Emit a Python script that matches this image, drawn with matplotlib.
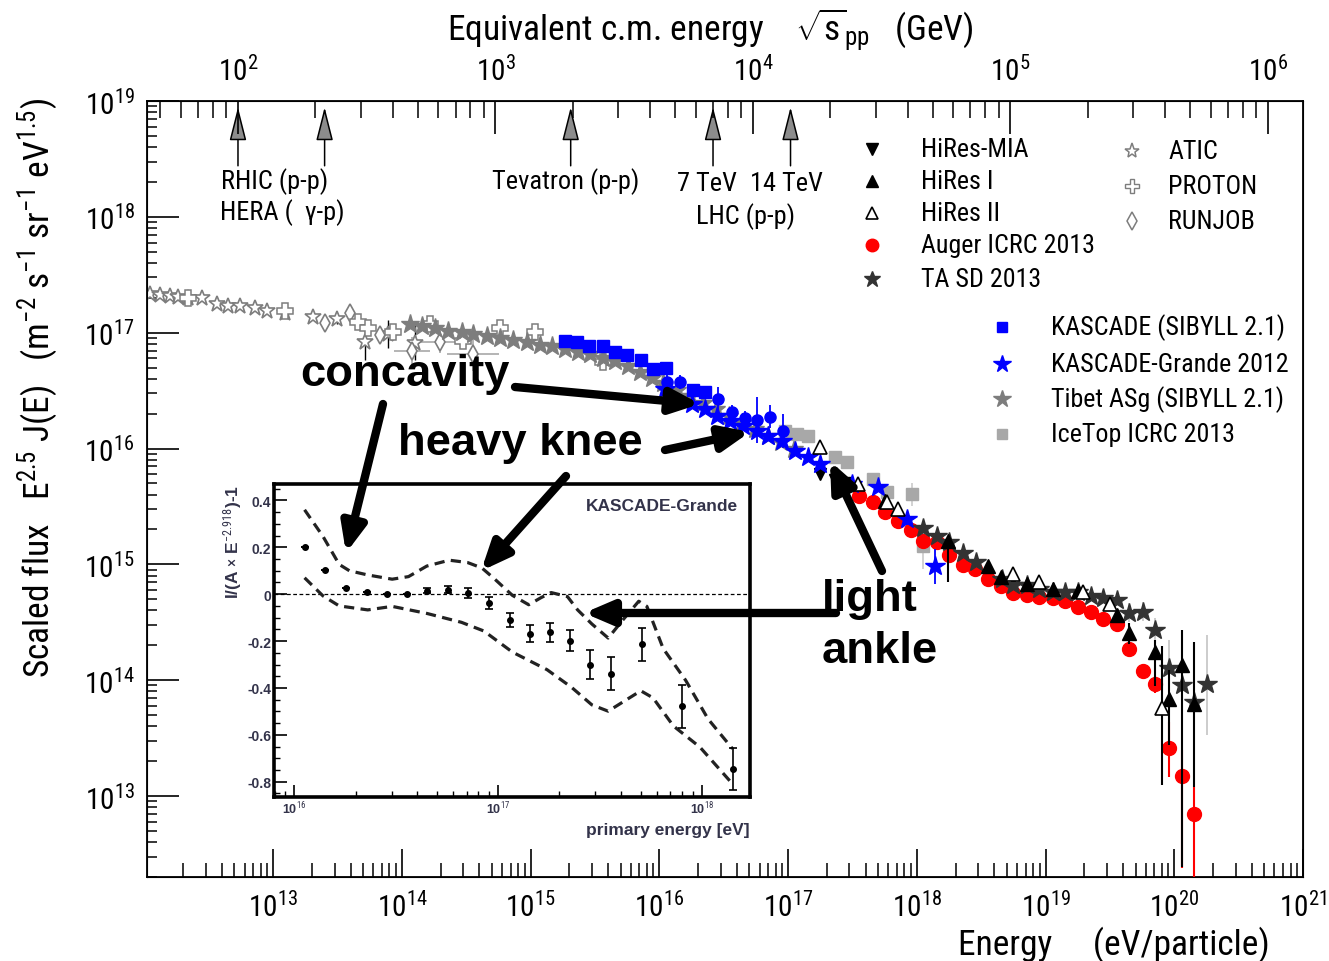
import numpy as np
import matplotlib
matplotlib.use('Agg')
import matplotlib.pyplot as plt
from matplotlib import font_manager
from matplotlib.ticker import (LogLocator, NullFormatter, MultipleLocator, FixedLocator,
                               FuncFormatter, LogFormatterMathtext)

# ---------------- data (log10 values) ----------------
atic_logE = [12.045, 12.123, 12.200, 12.262, 12.340, 12.449, 12.565, 12.651, 12.744, 12.860,
             12.953, 13.093, 13.311, 13.497, 13.714, 13.893, 14.102]
atic_logF = [17.338, 17.329, 17.320, 17.312, 17.303, 17.303, 17.251, 17.234, 17.234, 17.216,
             17.190, 17.173, 17.139, 17.121, 16.922, 16.991, 16.913]
atic_err = [0, 0, 0, 0, 0, 0, 0, 0, 0, 0, 0, 0, 0, 0.05, 0.16, 0.12, 0.15]

proton_logE = [12.340, 13.093, 13.660, 13.738, 13.932, 14.219, 14.475, 14.762, 15.034, 15.562]
proton_logF = [17.303, 17.190, 17.095, 17.043, 17.009, 17.078, 16.931, 17.043, 17.009, 16.749]

runjob_logE = [13.404, 13.598, 13.831, 14.079, 14.297, 14.553]
runjob_logF = [17.087, 17.173, 16.983, 16.844, 16.922, 16.818]
runjob_xerr = [0, 0, 0, 0.14, 0.16, 0.20]
runjob_yerr = [0, 0, 0, 0.12, 0.10, 0.15]

tibet_logE = [14.064, 14.157, 14.258, 14.359, 14.467, 14.553, 14.661, 14.762, 14.863, 14.972,
              15.073, 15.166, 15.267, 15.368, 15.461, 15.562, 15.655, 15.756, 15.849, 15.943,
              16.028, 16.137, 16.238, 16.339, 16.439, 16.540, 16.641, 16.742, 16.843, 16.944, 17.045]
tibet_logF = [17.078, 17.061, 17.043, 17.017, 17.009, 16.991, 16.974, 16.957, 16.939, 16.922,
              16.896, 16.887, 16.861, 16.835, 16.818, 16.784, 16.758, 16.714, 16.662, 16.610,
              16.567, 16.506, 16.455, 16.394, 16.342, 16.281, 16.221, 16.169, 16.108, 16.056, 15.996]

kascade_logE = [15.267, 15.360, 15.453, 15.562, 15.655, 15.748, 15.857, 15.950, 16.051, 16.261, 16.354]
kascade_logF = [16.931, 16.922, 16.887, 16.887, 16.835, 16.810, 16.766, 16.688, 16.697, 16.506, 16.489]

kgq_logE = [16.059, 16.160, 16.455, 16.564, 16.665, 16.758, 16.859, 16.960]
kgq_logF = [16.576, 16.576, 16.429, 16.316, 16.264, 16.247, 16.273, 16.152]
kgq_err = [0.06, 0.06, 0.10, 0.06, 0.06, 0.20, 0.10, 0.15]

kg_logE = [16.043, 16.253, 16.354, 16.447, 16.548, 16.649, 16.758, 16.843, 16.952, 17.053,
           17.154, 17.247, 17.495, 17.697, 17.922, 18.140]
kg_logF = [16.515, 16.385, 16.342, 16.281, 16.238, 16.195, 16.152, 16.108, 16.065, 15.978,
           15.926, 15.866, 15.693, 15.667, 15.390, 14.983]
kg_err = [0, 0, 0, 0, 0, 0, 0, 0, 0, 0, 0, 0, 0, 0, 0.05, 0.15]

ice_logE = [16.975, 17.068, 17.154, 17.363, 17.457, 17.658, 17.767, 17.961, 18.047]
ice_logF = [16.152, 16.126, 16.108, 15.926, 15.883, 15.736, 15.623, 15.606, 15.156]
ice_err = [0, 0, 0, 0, 0, 0, 0, 0.10, 0.20]

mia_logE = [17.247, 17.363, 17.457]
mia_logF = [15.779, 15.727, 15.701]

hires1_logE = [17.752, 18.241, 18.551, 18.652, 18.854, 19.056, 19.250, 19.553, 19.646, 19.848,
               19.957, 20.057, 20.151]
hires1_logF = [15.545, 15.199, 14.983, 14.887, 14.827, 14.784, 14.766, 14.567, 14.411, 14.247,
               13.840, 14.134, 13.797]
hires1_dn = [0, 0.35, 0, 0, 0, 0, 0, 0.05, 0.10, 0.30, 0.40, 1.75, 0.72]
hires1_up = [0, 0.05, 0, 0, 0, 0, 0, 0.05, 0.08, 0.10, 0.25, 0.30, 0.53]

hires2_logE = [17.247, 17.542, 17.767, 17.853, 18.745, 18.947, 19.289, 19.498, 19.902]
hires2_logF = [16.013, 15.693, 15.537, 15.476, 14.913, 14.844, 14.758, 14.654, 13.762]
hires2_dn = [0, 0, 0, 0, 0, 0, 0, 0.05, 0.67]
hires2_up = [0, 0, 0, 0, 0, 0, 0, 0.05, 0.53]

auger_logE = [17.550, 17.658, 17.752, 17.853, 17.953, 18.047, 18.155, 18.248, 18.357, 18.450,
              18.551, 18.652, 18.745, 18.854, 18.947, 19.056, 19.149, 19.250, 19.351, 19.444,
              19.553, 19.646, 19.755, 19.848, 19.957, 20.057, 20.151]
auger_logF = [15.589, 15.537, 15.450, 15.372, 15.294, 15.199, 15.190, 15.078, 14.991, 14.957,
              14.870, 14.810, 14.749, 14.732, 14.714, 14.706, 14.680, 14.636, 14.593, 14.524,
              14.489, 14.273, 14.082, 13.970, 13.416, 13.173, 12.844]
auger_dn = [0] * 21 + [0.03, 0.05, 0.08, 0.25, 0.79, 1.0]
auger_up = [0] * 21 + [0.03, 0.05, 0.07, 0.22, 0.225, 0.23]

ta_logE = [18.047, 18.155, 18.248, 18.357, 18.458, 18.660, 18.745, 18.854, 18.947, 19.056,
           19.149, 19.250, 19.351, 19.444, 19.553, 19.646, 19.755, 19.848, 19.957, 20.057,
           20.151, 20.252]
ta_logF = [15.312, 15.242, 15.190, 15.095, 15.017, 14.870, 14.818, 14.818, 14.784, 14.758,
           14.758, 14.758, 14.723, 14.706, 14.688, 14.584, 14.593, 14.437, 14.108, 13.961,
           13.814, 13.970]
ta_dn = [0] * 15 + [0.08, 0.08, 0.12, 0.56, 0.40, 0.45, 0.44]
ta_up = [0] * 15 + [0.08, 0.08, 0.10, 0.24, 0.30, 0.35, 0.42]

# collider markers (sqrt(s) in GeV)
collider_sqrts = [100, 217, 1960, 7000, 14000]

# tick positions
x_major = [1e13, 1e14, 1e15, 1e16, 1e17, 1e18, 1e19, 1e20, 1e21]
y_major = [1e13, 1e14, 1e15, 1e16, 1e17, 1e18, 1e19]
top_major = [1e2, 1e3, 1e4, 1e5, 1e6]

# inset: KASCADE-Grande residuals
in_logE = [16.054, 16.152, 16.254, 16.354, 16.455, 16.553, 16.653, 16.753, 16.853, 16.954,
           17.056, 17.154, 17.256, 17.354, 17.453, 17.553, 17.704, 17.904, 18.152]
in_y = [0.202, 0.105, 0.025, 0.010, 0.0, 0.0, 0.015, 0.02, 0.005, -0.037,
        -0.112, -0.168, -0.162, -0.198, -0.30, -0.34, -0.214, -0.479, -0.745]
in_err = [0, 0, 0, 0, 0, 0, 0.01, 0.015, 0.02, 0.025, 0.03, 0.035, 0.04, 0.045, 0.06, 0.07,
          0.07, 0.09, 0.09]
up_logE = [16.05, 16.14, 16.22, 16.27, 16.36, 16.48, 16.56, 16.65, 16.76, 16.85, 16.92, 16.98,
           17.07, 17.15, 17.21, 17.26, 17.34, 17.39, 17.46, 17.54, 17.61, 17.69, 17.73, 17.81,
           17.92, 18.03, 18.15]
up_y = [0.36, 0.247, 0.127, 0.10, 0.082, 0.064, 0.075, 0.12, 0.145, 0.135, 0.112, 0.067,
        -0.005, -0.045, -0.015, 0.007, -0.01, -0.067, -0.127, -0.187, -0.112, -0.03, -0.052,
        -0.232, -0.367, -0.532, -0.659]
lo_logE = [16.05, 16.14, 16.22, 16.36, 16.48, 16.65, 16.82, 16.93, 17.07, 17.24, 17.36, 17.46,
           17.54, 17.63, 17.70, 17.76, 17.86, 17.99, 18.15]
lo_y = [0.07, -0.007, -0.05, -0.067, -0.052, -0.082, -0.12, -0.157, -0.247, -0.322, -0.397,
        -0.472, -0.499, -0.45, -0.412, -0.442, -0.562, -0.652, -0.809]
in_x_major = [1e16, 1e17, 1e18]

# ---------------- fonts ----------------
names = {f.name for f in font_manager.fontManager.ttflist}
NARROW = next((n for n in ['Liberation Sans Narrow', 'Roboto Condensed', 'Open Sans Condensed',
                           'DejaVu Sans Condensed'] if n in names), None)
FAM = NARROW or 'Lato'
K = 1.0 if NARROW else 0.87
plt.rcParams['font.family'] = [FAM, 'DejaVu Sans']
plt.rcParams['mathtext.fontset'] = 'custom'
plt.rcParams['mathtext.rm'] = FAM
plt.rcParams['mathtext.it'] = FAM
plt.rcParams['mathtext.bf'] = FAM
HELV = ['Liberation Sans', 'DejaVu Sans']

GRAY = '#7d7d7d'
LGRAY = '#a8a8a8'
DARK = '#333333'
BLUE = '#0000ff'
RED = '#ff0000'
INK = '#33334a'

W, H = 1329, 962
fig = plt.figure(figsize=(W / 100, H / 100), dpi=100)
L, R, T, B = 147, 1303, 102, 878
ax = fig.add_axes([L / W, 1 - B / H, (R - L) / W, (B - T) / H])

def P(a):
    return 10 ** np.asarray(a, dtype=float)

def lerr(F, dn, up):
    F = np.asarray(F, float)
    return [10 ** F - 10 ** (F - np.asarray(dn)), 10 ** (F + np.asarray(up)) - 10 ** F]

# ---- low energy direct measurements ----
ax.errorbar(P(atic_logE), P(atic_logF), yerr=lerr(atic_logF, atic_err, atic_err), fmt='*',
            ms=12, mfc='white', mec=GRAY, mew=1.2, ecolor='black', elinewidth=1.0, zorder=3)
ax.errorbar(P(runjob_logE), P(runjob_logF), yerr=lerr(runjob_logF, runjob_yerr, runjob_yerr),
            xerr=[P(runjob_logE) - P(np.array(runjob_logE) - runjob_xerr),
                  P(np.array(runjob_logE) + runjob_xerr) - P(runjob_logE)],
            fmt='d', ms=9, mfc='white', mec=GRAY, mew=1.2, ecolor=LGRAY, elinewidth=1.2, zorder=3)
ax.plot(P(proton_logE), P(proton_logF), 'P', ms=11, mfc='white', mec=GRAY, mew=1.1, ls='none', zorder=4)
ax.plot(P(tibet_logE), P(tibet_logF), '*', ms=14, color=GRAY, ls='none', zorder=4)

# ---- knee region ----
ax.plot(P(kascade_logE), P(kascade_logF), 's', ms=9, color=BLUE, ls='none', zorder=6)
ax.errorbar(P(kgq_logE), P(kgq_logF), yerr=lerr(kgq_logF, kgq_err, kgq_err), fmt='o', ms=8,
            color=BLUE, elinewidth=1.3, zorder=6)
ax.errorbar(P(ice_logE), P(ice_logF), yerr=lerr(ice_logF, ice_err, ice_err), fmt='s', ms=8,
            color=LGRAY, ecolor='#cfcfcf', elinewidth=1.3, zorder=5)
ax.errorbar(P(kg_logE), P(kg_logF), yerr=lerr(kg_logF, kg_err, kg_err), fmt='*', ms=15,
            color=BLUE, elinewidth=1.3, zorder=7)

# ---- UHECR ----
ax.plot(P(mia_logE), P(mia_logF), 'v', ms=9, color='black', ls='none', zorder=6)
ax.errorbar(P(auger_logE), P(auger_logF), yerr=lerr(auger_logF, auger_dn, auger_up), fmt='o',
            ms=10, color=RED, elinewidth=1.5, zorder=6)
ax.errorbar(P(ta_logE), P(ta_logF), yerr=lerr(ta_logF, ta_dn, ta_up), fmt='*', ms=15,
            color=DARK, ecolor='#c8c8c8', elinewidth=1.3, zorder=7)
ax.errorbar(P(hires1_logE), P(hires1_logF), yerr=lerr(hires1_logF, hires1_dn, hires1_up), fmt='^',
            ms=10, color='black', elinewidth=1.5, zorder=8)
ax.errorbar(P(hires2_logE), P(hires2_logF), yerr=lerr(hires2_logF, hires2_dn, hires2_up), fmt='^',
            ms=10, mfc='white', mec='black', mew=1.2, ecolor='black', elinewidth=1.5, zorder=8)

# ---------------- axes formatting ----------------
TL = 21 * K
ax.set_xscale('log')
ax.set_yscale('log')
xlim = (10 ** 12.02, 1e21)
ax.set_xlim(*xlim)
ax.set_ylim(2e12, 1e19)
for sp in ax.spines.values():
    sp.set_linewidth(1.3)
ax.xaxis.set_major_locator(FixedLocator(x_major))
ax.xaxis.set_major_formatter(LogFormatterMathtext())
ax.xaxis.set_minor_locator(LogLocator(base=10, subs=np.arange(2, 10), numticks=200))
ax.xaxis.set_minor_formatter(NullFormatter())
ax.yaxis.set_major_locator(FixedLocator(y_major))
ax.yaxis.set_major_formatter(LogFormatterMathtext())
ax.yaxis.set_minor_locator(LogLocator(base=10, subs=np.arange(2, 10), numticks=200))
ax.yaxis.set_minor_formatter(NullFormatter())
ax.tick_params(axis='x', which='major', direction='in', length=20, width=1.2, pad=10,
               labelsize=TL, top=False)
ax.tick_params(axis='x', which='minor', direction='in', length=10, width=1.1, top=False)
ax.tick_params(axis='y', which='major', direction='in', length=23, width=1.2, pad=9,
               labelsize=TL, right=False)
ax.tick_params(axis='y', which='minor', direction='in', length=7, width=1.1, right=False)

axt = ax.twiny()
axt.set_xscale('log')
mp = 0.938e9
def sqrts_gev(E):
    return np.sqrt(2 * mp * E) / 1e9
axt.set_xlim(sqrts_gev(xlim[0]), sqrts_gev(xlim[1]))
axt.xaxis.set_major_locator(FixedLocator(top_major))
axt.xaxis.set_major_formatter(LogFormatterMathtext())
axt.xaxis.set_minor_locator(LogLocator(base=10, subs=np.arange(2, 10), numticks=200))
axt.xaxis.set_minor_formatter(NullFormatter())
axt.tick_params(axis='x', which='major', direction='in', length=24, width=1.2, pad=11,
                labelsize=TL)
axt.tick_params(axis='x', which='minor', direction='in', length=12, width=1.1)

# collider arrows
for s in collider_sqrts:
    E = (s * 1e9) ** 2 / (2 * mp)
    ax.annotate('', xy=(E, 0.992), xytext=(E, 0.9165), xycoords=('data', 'axes fraction'),
                textcoords=('data', 'axes fraction'),
                arrowprops=dict(arrowstyle='-|>,head_length=1.5,head_width=0.38', fc='#8c8c8c',
                                ec='black', lw=1.1, mutation_scale=14, shrinkA=0, shrinkB=0),
                zorder=9)

# ---------------- inset ----------------
iL, iR, iT, iB = 274, 750, 485, 798
axi = fig.add_axes([iL / W, 1 - iB / H, (iR - iL) / W, (iB - iT) / H], zorder=5)
axi.set_facecolor('white')
axi.set_xscale('log')
axi.set_xlim(10 ** 15.9, 10 ** 18.236)
axi.set_ylim(-0.865, 0.47)
for sp in axi.spines.values():
    sp.set_linewidth(2.6)
axi.axhline(0, color='black', lw=0.9, ls=(0, (3, 2)), zorder=1)
axi.plot(P(up_logE), up_y, color='#222222', lw=2.3, ls=(0, (3.2, 2.0)), zorder=2)
axi.plot(P(lo_logE), lo_y, color='#222222', lw=2.3, ls=(0, (3.2, 2.0)), zorder=2)
axi.errorbar(P(in_logE), in_y, yerr=in_err, fmt='o', ms=4, color='black', elinewidth=1.2,
             capsize=3, capthick=1.2, zorder=3)
axi.yaxis.set_major_locator(MultipleLocator(0.2))
axi.yaxis.set_minor_locator(MultipleLocator(0.05))
axi.xaxis.set_major_locator(FixedLocator(in_x_major))
axi.xaxis.set_minor_locator(LogLocator(base=10, subs=np.arange(2, 10), numticks=100))
axi.xaxis.set_minor_formatter(NullFormatter())
axi.yaxis.set_major_formatter(FuncFormatter(
    lambda v, p: '0' if abs(v) < 1e-9 else ('%.1f' % v)))
axi.xaxis.set_major_formatter(FuncFormatter(
    lambda v, p: r'10$^{\mathbf{%d}}$' % round(np.log10(v))))
axi.tick_params(which='major', direction='in', length=9, width=1.2, labelsize=10,
                labelcolor=INK, pad=2)
axi.tick_params(axis='x', which='major', labelsize=9)
axi.tick_params(which='minor', direction='in', length=4.5, width=1.0)
for lab in axi.get_xticklabels() + axi.get_yticklabels():
    lab.set_fontfamily(HELV)
    lab.set_fontweight('bold')
axi.text(0.975, 0.93, 'KASCADE-Grande', transform=axi.transAxes, ha='right', va='center',
         fontsize=12.5, fontweight='bold', family=HELV, color=INK)
axi.text(1.0, -0.103, 'primary energy [eV]', transform=axi.transAxes, ha='right', va='center',
         fontsize=12.5, fontweight='bold', family=HELV, color=INK)
axi.text(-0.088, 1.0, r'I/(A $\times$ E$^{\mathbf{-2.918}}$)-1', transform=axi.transAxes,
         rotation=90, ha='center', va='top', fontsize=12.5, fontweight='bold', family=HELV,
         color=INK)

# ---------------- overlay: texts, legend, arrows (pixel coordinates) ----------------
ov = fig.add_axes([0, 0, 1, 1], zorder=20)
ov.set_xlim(0, W)
ov.set_ylim(H, 0)
ov.axis('off')
ov.patch.set_alpha(0)

fs_lab = 25.5 * K
ov.text(447, 30, r'Equivalent c.m. energy    $\sqrt{s}_{\mathrm{pp}}$   (GeV)', ha='left',
        va='center', fontsize=fs_lab)
ov.text(1270, 945, 'Energy     (eV/particle)', ha='right', va='center', fontsize=fs_lab)
ov.text(38, 388, r'Scaled flux   E$^{2.5}$ J(E)   (m$^{-2}$ s$^{-1}$ sr$^{-1}$ eV$^{1.5}$)',
        rotation=90, ha='center', va='center', fontsize=fs_lab)

fs_c = 19 * K
for txt, x, y in [('RHIC (p-p)', 275, 182), ('HERA (  \u03b3-p)', 282, 213),
                  ('Tevatron (p-p)', 566, 182), ('7 TeV', 707, 184), ('14 TeV', 786, 184),
                  ('LHC (p-p)', 746, 217)]:
    ov.text(x, y, txt, ha='center', va='center', fontsize=fs_c)

fs_l = 18.7 * K
leg = [
    (872, 921, 150, 'HiRes-MIA', dict(marker='v', ms=9, color='black')),
    (872, 921, 182, 'HiRes I', dict(marker='^', ms=9, color='black')),
    (872, 921, 214, 'HiRes II', dict(marker='^', ms=9, mfc='white', mec='black', mew=1.2)),
    (872, 921, 246, 'Auger ICRC 2013', dict(marker='o', ms=9, color=RED)),
    (872, 921, 280, 'TA SD 2013', dict(marker='*', ms=12, color=DARK)),
    (1132, 1168, 152, 'ATIC', dict(marker='*', ms=11, mfc='white', mec=GRAY, mew=1.1)),
    (1132, 1168, 187, 'PROTON', dict(marker='P', ms=10, mfc='white', mec=GRAY, mew=1.0)),
    (1132, 1168, 222, 'RUNJOB', dict(marker='d', ms=9, mfc='white', mec=GRAY, mew=1.1)),
    (1002, 1051, 328, 'KASCADE (SIBYLL 2.1)', dict(marker='s', ms=7, color=BLUE)),
    (1002, 1051, 365, 'KASCADE-Grande 2012', dict(marker='*', ms=13, color=BLUE)),
    (1002, 1051, 400, 'Tibet ASg (SIBYLL 2.1)', dict(marker='*', ms=13, color=GRAY)),
    (1002, 1051, 435, 'IceTop ICRC 2013', dict(marker='s', ms=7, color=LGRAY)),
]
for mx, tx, y, txt, kw in leg:
    ov.plot([mx], [y], ls='none', **kw)
    ov.text(tx, y, txt, ha='left', va='center', fontsize=fs_l)

BOLD = dict(fontsize=32.7, fontweight='bold', family=HELV, ha='left', va='baseline')
ov.text(300, 386, 'concavity', **BOLD)
ov.text(398, 455, 'heavy knee', **BOLD)
ov.text(822, 611, 'light', **BOLD)
ov.text(822, 663, 'ankle', **BOLD)

AP = dict(arrowstyle='-|>,head_length=0.7,head_width=0.3', color='black', lw=6,
          mutation_scale=24, shrinkA=0, shrinkB=0)
for tail, head in [((515, 388), (700, 405)), ((383, 405), (346, 554)), ((665, 451), (750, 433)),
                   ((566, 477), (481, 572)), ((882, 572), (830, 462)), ((836, 614), (584, 614))]:
    ov.annotate('', xy=head, xytext=tail, arrowprops=AP)

fig.savefig('out.png', dpi=100)
